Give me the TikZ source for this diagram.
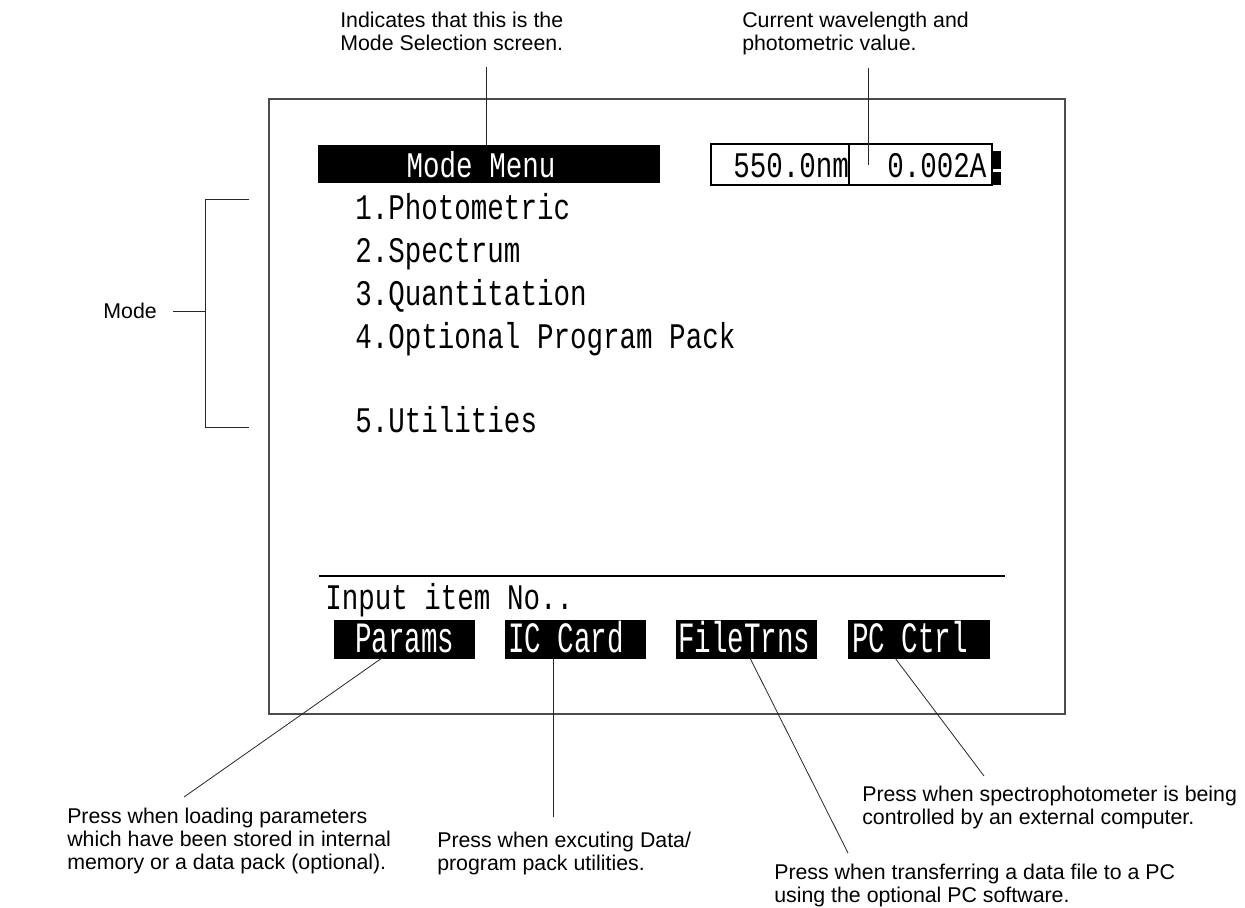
\documentclass[tikz,border=0pt]{standalone}
\usepackage{fontspec}
\setmainfont{Liberation Sans}
\newfontfamily\lcdfont{Liberation Mono}
\usepackage{graphicx}
\newcommand\lcd[1]{\scalebox{0.765}[1]{\lcdfont\fontsize{27}{27}\selectfont #1}}
\newcommand\lcdk[1]{\scalebox{0.765}[1.2]{\lcdfont\fontsize{27}{27}\selectfont #1}}
\tikzset{
  lead/.style={draw=black!85, line width=0.6pt},
  txt/.style={inner sep=0pt, align=left, font=\fontsize{16}{17}\selectfont},
  lcdtxt/.style={inner sep=0pt, anchor=base west},
  screen/.style={draw=black!70, line width=1.5pt},
  keybox/.style={fill=black}
}
\begin{document}
\begin{tikzpicture}[x=0.75pt,y=-0.75pt]
\useasboundingbox (0,0) rectangle (1245,907);
% annotations top
\node[txt, anchor=north west] (t1) at (340,12) {Indicates that this is the\\Mode Selection screen.};
\node[txt, anchor=north west] (t2) at (742,12) {Current wavelength and\\photometric value.};
% screen frame
\draw[screen] (269,99) rectangle (1065,714);
% mode menu bar
\fill[keybox] (318,145) rectangle (660,183);
\node[lcdtxt, anchor=base, text=white] (mm) at (481,177) {\lcd{Mode Menu}};
\coordinate (mmtop) at (486,145);
\coordinate (l1) at (486,67);
\draw[lead] (l1) -- (mmtop);
% status box
\draw[line width=1pt] (711,144) rectangle (992,185);
\draw[line width=1pt] (849,144) -- (849,185);
\node[lcdtxt] (wl) at (733,177) {\lcd{550.0nm}};
\node[lcdtxt] (abs) at (887,177) {\lcd{0.002A}};
\fill (992,151) rectangle (1001,169);
\fill (992,172) rectangle (1001,185);
\coordinate (l2) at (868,68);
\coordinate (l2e) at (868,165);
\draw[lead] (l2) -- (l2e);
% menu items
\node[lcdtxt] (m1) at (355,219) {\lcd{1.Photometric}};
\node[lcdtxt] (m2) at (355,262) {\lcd{2.Spectrum}};
\node[lcdtxt] (m3) at (355,305) {\lcd{3.Quantitation}};
\node[lcdtxt] (m4) at (355,348) {\lcd{4.Optional Program Pack}};
\node[lcdtxt] (m5) at (355,432) {\lcd{5.Utilities}};
% mode bracket
\node[txt, anchor=east] (mode) at (157,311) {Mode};
\coordinate (bt) at (249,199);
\coordinate (bb) at (249,427);
\coordinate (bm) at (205,311);
\draw[lead] (bt) -- (bt -| bm) -- (bb -| bm) -- (bb);
\draw[lead] ([xshift=12pt]mode.east) -- (bm);
% divider and prompt
\draw[line width=1.9pt] (319,576) -- (1005,576);
\node[lcdtxt] (prompt) at (325,609) {\lcd{Input item No..}};
% soft keys
\fill[keybox] (334,620) rectangle (475,659);
\fill[keybox] (505,620) rectangle (646,659);
\fill[keybox] (676,620) rectangle (817,659);
\fill[keybox] (848,620) rectangle (990,659);
\node[lcdtxt, text=white] (k1) at (355,652) {\lcdk{Params}};
\node[lcdtxt, text=white] (k2) at (508,652) {\lcdk{IC Card}};
\node[lcdtxt, text=white] (k3) at (678,652) {\lcdk{FileTrns}};
\node[lcdtxt, text=white] (k4) at (852,652) {\lcdk{PC Ctrl}};
% bottom leaders
\coordinate (p1) at (382,658); \coordinate (p1e) at (184,797);
\coordinate (p2) at (553,659); \coordinate (p2e) at (553,817);
\coordinate (p3) at (750,658); \coordinate (p3e) at (848,853);
\coordinate (p4) at (895,658); \coordinate (p4e) at (984,776);
\draw[lead] (p1) -- (p1e);
\draw[lead] (p2) -- (p2e);
\draw[lead] (p3) -- (p3e);
\draw[lead] (p4) -- (p4e);
% bottom texts
\node[txt, anchor=north west] (b1) at (67,808) {Press when loading parameters\\which have been stored in internal\\memory or a data pack (optional).};
\node[txt, anchor=north west] (b2) at (437,832) {Press when excuting Data/\\program pack utilities.};
\node[txt, anchor=north west] (b3) at (774,864) {Press when transferring a data file to a PC\\using the optional PC software.};
\node[txt, anchor=north west] (b4) at (862,786) {Press when spectrophotometer is being\\controlled by an external computer.};
\end{tikzpicture}
\end{document}
